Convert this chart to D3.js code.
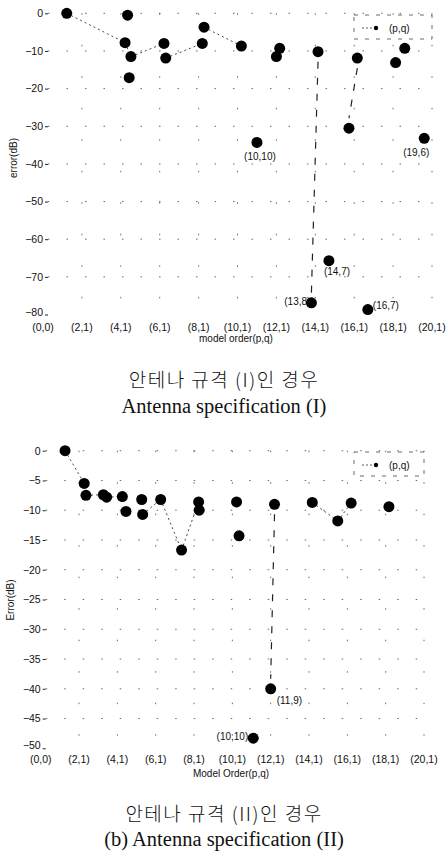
<!DOCTYPE html>
<html>
<head>
<meta charset="utf-8">
<script src="https://cdn.jsdelivr.net/npm/d3@7"></script>
<style>
  body { margin:0; background:#fff; }
  svg text { font-family: "Liberation Sans", Arial, sans-serif; fill:#111; }
  .cap-ko { font-family: "Noto Sans CJK KR", sans-serif !important; font-weight:300; letter-spacing:1.5px; }
  .cap-en { font-family: "Liberation Serif", "Times New Roman", serif !important; }
</style>
</head>
<body>
<svg id="chart" width="448" height="852"></svg>
<script>
// DATA - model order ticks
var xTickVals = [0,2,4,6,8,10,12,14,16,18,20];
var xTickText = ['(0,0)','(2,1)','(4,1)','(6,1)','(8,1)','(10,1)','(12,1)','(14,1)','(16,1)','(18,1)','(20,1)'];

// (I) antenna spec
var topYTicks = [0,-10,-20,-30,-40,-50,-60,-70,-80];
var topX = [1.22,4.22,4.35,4.43,4.52,6.22,6.31,8.19,8.28,10.2,11.0,12.0,12.17,13.8,14.14,14.7,15.73,16.16,16.7,18.13,18.6,19.6];
var topY = [0,-7.8,-0.5,-17.1,-11.5,-8.0,-11.9,-8.0,-3.7,-8.7,-34.3,-11.5,-9.3,-76.9,-10.2,-65.7,-30.5,-11.9,-78.7,-13.1,-9.3,-33.2];
var topNoteIdx = [10,21,15,13,18];
var topNoteText = ['(10,10)','(19,6)','(14,7)','(13,8)','(16,7)'];
var topLinks = [[0,1],[1,4],[4,5],[6,7],[8,9]];
var topDrops = [[14,13],[17,16]];

// (II) antenna spec
var botYTicks = [0,-5,-10,-15,-20,-25,-30,-35,-40,-45,-50];
var botX = [1.27,2.27,2.36,3.27,3.44,4.26,4.45,5.27,5.32,6.26,7.35,8.24,8.27,10.22,10.35,11.09,12.0,12.2,14.17,15.5,16.2,18.17];
var botY = [0,-5.5,-7.5,-7.4,-7.8,-7.7,-10.2,-8.2,-10.7,-8.2,-16.7,-8.6,-10.0,-8.6,-14.3,-48.3,-40,-9.0,-8.7,-11.8,-8.8,-9.4];
var botNoteIdx = [16,15];
var botNoteText = ['(11,9)','(10,10)'];
var botLinks = [[0,1],[2,3],[4,5],[8,9],[9,10],[10,11],[18,19],[19,20]];
var botDrops = [[17,16]];

var svg = d3.select('#chart');
svg.append('rect').attr('width',448).attr('height',852).attr('fill','#fff');

function drawPanel(cfg)
{
	var g = svg.append('g');
	var x = d3.scaleLinear().domain([0,20]).range(cfg.xRange);
	var y = d3.scaleLinear().domain([cfg.yTicks[cfg.yTicks.length-1],0]).range(cfg.yRange);
	var left = x(0) + 5, right = x(20);

	// sparse scanned-looking grid
	g.selectAll('.hgrid').data(cfg.yTicks.slice(0,-1)).enter().append('line')
		.attr('x1',left).attr('x2',right)
		.attr('y1',function(d){return y(d);}).attr('y2',function(d){return y(d);})
		.attr('stroke','#444').attr('stroke-width',0.8).attr('stroke-dasharray','1.5,17');
	g.selectAll('.vgrid').data(xTickVals.slice(1)).enter().append('line')
		.attr('x1',function(d){return x(d);}).attr('x2',function(d){return x(d);})
		.attr('y1',y(0)).attr('y2',cfg.yRange[0])
		.attr('stroke','#444').attr('stroke-width',0.8).attr('stroke-dasharray','1.5,30');

	// y axis (ticks only, no domain line)
	var yAxis = d3.axisLeft(y).tickValues(cfg.yTicks).tickSize(3).tickPadding(2);
	var ya = g.append('g').attr('transform','translate(' + left + ',0)').call(yAxis);
	ya.select('.domain').remove();
	ya.selectAll('text').style('font-size','10.5px').attr('fill','#111');
	ya.selectAll('.tick:last-of-type text').attr('dy','0.05em');
	ya.selectAll('line').attr('stroke','#222');

	// x tick labels
	g.selectAll('.xlab').data(xTickVals).enter().append('text')
		.attr('x',function(d){return x(d);})
		.attr('y',cfg.xLabY)
		.attr('text-anchor','middle')
		.style('font-size','10.5px')
		.text(function(d,i){return xTickText[i];});

	// axis titles
	g.append('text').attr('x',cfg.xTitle[0]).attr('y',cfg.xTitle[1])
		.attr('text-anchor','middle').style('font-size','10px').text(cfg.xTitleText);
	g.append('text').attr('transform','translate(' + cfg.yTitle[0] + ',' + cfg.yTitle[1] + ') rotate(-90)')
		.attr('text-anchor','middle').style('font-size','10px').text(cfg.yTitleText);

	// connecting dotted lines
	g.selectAll('.link').data(cfg.links).enter().append('line')
		.attr('x1',function(d){return x(cfg.xs[d[0]]);}).attr('y1',function(d){return y(cfg.ys[d[0]]);})
		.attr('x2',function(d){return x(cfg.xs[d[1]]);}).attr('y2',function(d){return y(cfg.ys[d[1]]);})
		.attr('stroke','#333').attr('stroke-width',0.9).attr('stroke-dasharray','2,3');
	g.selectAll('.drop').data(cfg.drops).enter().append('line')
		.attr('x1',function(d){return x(cfg.xs[d[0]]);}).attr('y1',function(d){return y(cfg.ys[d[0]]) + 10;})
		.attr('x2',function(d){return x(cfg.xs[d[1]]);}).attr('y2',function(d){return y(cfg.ys[d[1]]) - 10;})
		.attr('stroke','#222').attr('stroke-width',1.2).attr('stroke-dasharray','7,9');

	// points
	g.selectAll('.pt').data(cfg.xs).enter().append('circle')
		.attr('cx',function(d){return x(d);})
		.attr('cy',function(d,i){return y(cfg.ys[i]);})
		.attr('r',5.5).attr('fill','#000');

	// point notes
	g.selectAll('.note').data(cfg.noteIdx).enter().append('text')
		.attr('x',function(d,i){return x(cfg.xs[d]) + cfg.noteOff[i][0];})
		.attr('y',function(d,i){return y(cfg.ys[d]) + cfg.noteOff[i][1];})
		.attr('text-anchor',function(d,i){return cfg.noteOff[i][2];})
		.style('font-size','10px')
		.text(function(d,i){return cfg.noteText[i];});

	// legend
	var lg = g.append('g');
	lg.append('rect').attr('x',354).attr('y',cfg.legY - 13).attr('width',right - 354).attr('height',24)
		.attr('fill','none').attr('stroke','#444').attr('stroke-width',0.8).attr('stroke-dasharray','4,7');
	lg.append('line').attr('x1',362).attr('x2',378).attr('y1',cfg.legY).attr('y2',cfg.legY)
		.attr('stroke','#333').attr('stroke-width',0.8).attr('stroke-dasharray','2,2');
	lg.append('circle').attr('cx',376).attr('cy',cfg.legY).attr('r',2.2).attr('fill','#000');
	lg.append('text').attr('x',389).attr('y',cfg.legY + 4).style('font-size','10px').text('(p,q)');

	// captions
	g.selectAll('.cap').data(cfg.caps).enter().append('text')
		.attr('class',function(d,i){return i == 0 ? 'cap-ko' : 'cap-en';})
		.attr('x',224)
		.attr('y',function(d,i){return cfg.capY[i];})
		.attr('text-anchor','middle')
		.style('font-size',function(d,i){return i == 0 ? '19px' : '20.5px';})
		.text(function(d){return d;});
}

drawPanel({
	xs: topX, ys: topY, yTicks: topYTicks,
	xRange: [43,432], yRange: [314.5,13.3],
	xLabY: 331, xTitle: [236,342], xTitleText: 'model order(p,q)',
	yTitle: [17,158], yTitleText: 'error(dB)',
	links: topLinks, drops: topDrops,
	noteIdx: topNoteIdx, noteText: topNoteText,
	noteOff: [[3,18,'middle'],[-8,18,'middle'],[-5,14,'start'],[-1,2,'end'],[5,-1,'start']],
	legY: 28,
	caps: ['안테나 규격 (I)인 경우','Antenna specification (I)'], capY: [387,413]
});

drawPanel({
	xs: botX, ys: botY, yTicks: botYTicks,
	xRange: [40.7,424], yRange: [748.3,450.7],
	xLabY: 763, xTitle: [231,777], xTitleText: 'Model Order(p,q)',
	yTitle: [14,600], yTitleText: 'Error(dB)',
	links: botLinks, drops: botDrops,
	noteIdx: botNoteIdx, noteText: botNoteText,
	noteOff: [[6,15,'start'],[-5,2,'end']],
	legY: 465,
	caps: ['안테나 규격 (II)인 경우','(b) Antenna specification (II)'], capY: [821,846]
});
</script>
</body>
</html>
